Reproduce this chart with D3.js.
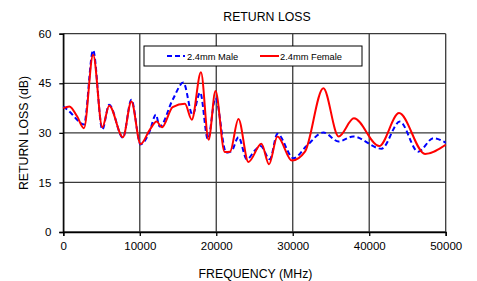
<!DOCTYPE html>
<html>
<head>
<meta charset="utf-8">
<script src="https://cdn.jsdelivr.net/npm/d3@7"></script>
<style>
  body { margin: 0; background: #fff; }
  text { font-family: Arial, "Liberation Sans", sans-serif; fill: #000; }
</style>
</head>
<body>
<svg></svg>
<script>
// 2.4mm Male (blue dashed)
var maleFreq = [0, 1000, 2000, 2700, 3900, 5100, 6000, 7800, 8900, 10100, 11300, 12100, 12600, 14300, 15700, 16900, 17900, 18900, 19900, 21300, 22000, 22900, 24000, 25100, 25800, 27000, 28000, 30100, 31800, 34000, 36000, 37900, 41600, 44000, 46400, 48400, 50000];
var maleDb = [38.0, 36.0, 33.5, 32.5, 55.0, 31.0, 38.5, 28.5, 40.0, 26.5, 30.5, 35.5, 31.9, 40.0, 45.2, 35.5, 42.2, 28.1, 40.5, 24.0, 24.5, 28.7, 22.0, 24.8, 26.0, 22.0, 29.7, 22.3, 26.0, 30.1, 27.4, 28.9, 25.2, 33.4, 24.3, 28.4, 27.0];

// 2.4mm Female (red solid)
var femaleFreq = [0, 800, 1800, 2700, 3900, 5100, 6000, 7800, 8900, 10100, 11300, 12200, 12900, 14300, 15900, 16800, 18000, 19000, 19900, 21100, 21800, 22900, 24200, 25900, 26900, 28000, 29900, 31600, 34000, 36000, 38000, 41300, 43900, 47300, 50000];
var femaleDb = [37.5, 38.0, 35.0, 31.4, 53.6, 31.7, 38.2, 28.7, 39.5, 26.6, 30.9, 33.4, 31.7, 37.8, 38.8, 34.0, 48.3, 27.9, 42.7, 24.2, 24.3, 34.2, 21.2, 26.7, 20.5, 28.9, 21.6, 24.3, 43.5, 28.9, 34.4, 26.0, 36.0, 23.6, 26.4];

var xTicks = [0, 10000, 20000, 30000, 40000, 50000];
var yTicks = [0, 15, 30, 45, 60];
var seriesNames = ["2.4mm Male", "2.4mm Female"];

var width = 477, height = 281;
var svg = d3.select("svg").attr("width", width).attr("height", height);

var plot = { left: 63.3, right: 445.7, top: 33.7, bottom: 232 };

var xScale = d3.scaleLinear().domain([0, 50000]).range([plot.left, plot.right]);
var yScale = d3.scaleLinear().domain([0, 60]).range([plot.bottom, plot.top]);

// grid
svg.append("g").selectAll("line.h")
  .data(yTicks).enter().append("line")
  .attr("x1", plot.left).attr("x2", plot.right)
  .attr("y1", function(d){ return yScale(d); })
  .attr("y2", function(d){ return yScale(d); })
  .attr("stroke", "#3a3a3a").attr("stroke-width", 1.3);

svg.append("g").selectAll("line.v")
  .data(xTicks).enter().append("line")
  .attr("y1", plot.top).attr("y2", plot.bottom)
  .attr("x1", function(d){ return xScale(d); })
  .attr("x2", function(d){ return xScale(d); })
  .attr("stroke", "#3a3a3a").attr("stroke-width", 1.3);

// axes
var xAxis = d3.axisBottom(xScale).tickValues(xTicks).tickFormat(d3.format("d"))
  .tickSizeOuter(0).tickSize(4).tickPadding(6);
var yAxis = d3.axisLeft(yScale).tickValues(yTicks).tickSizeOuter(0).tickSize(4).tickPadding(8);

var gx = svg.append("g")
  .attr("transform", "translate(0," + plot.bottom + ")")
  .call(xAxis);
var gy = svg.append("g")
  .attr("transform", "translate(" + plot.left + ",0)")
  .call(yAxis);

[gx, gy].forEach(function(g){
  g.select(".domain").attr("stroke", "#000").attr("stroke-width", 1.3);
  g.selectAll(".tick line").attr("stroke", "#000").attr("stroke-width", 1.3);
  g.selectAll("text").attr("font-size", "11.5px").attr("fill", "#000")
    .style("font-family", "Arial, 'Liberation Sans', sans-serif");
});

// lines
var line = d3.line()
  .x(function(d){ return xScale(d[0]); })
  .y(function(d){ return yScale(d[1]); })
  .curve(d3.curveMonotoneX);

var maleData = maleFreq.map(function(f, i){ return [f, maleDb[i]]; });
var femaleData = femaleFreq.map(function(f, i){ return [f, femaleDb[i]]; });

svg.append("path")
  .datum(maleData)
  .attr("d", line)
  .attr("fill", "none")
  .attr("stroke", "#0000ff")
  .attr("stroke-width", 2)
  .attr("stroke-dasharray", "5,3");

svg.append("path")
  .datum(femaleData)
  .attr("d", line)
  .attr("fill", "none")
  .attr("stroke", "#ff0000")
  .attr("stroke-width", 2);

// legend
var legend = svg.append("g");
legend.append("rect")
  .attr("x", 144).attr("y", 46).attr("width", 218).attr("height", 20)
  .attr("fill", "#fff").attr("stroke", "#000").attr("stroke-width", 1);

legend.append("line")
  .attr("x1", 167).attr("x2", 185).attr("y1", 56).attr("y2", 56)
  .attr("stroke", "#0000ff").attr("stroke-width", 2).attr("stroke-dasharray", "5,3");
legend.append("text")
  .attr("x", 187).attr("y", 59.5).attr("font-size", "9.3px")
  .text(seriesNames[0]);

legend.append("line")
  .attr("x1", 260).attr("x2", 279).attr("y1", 56).attr("y2", 56)
  .attr("stroke", "#ff0000").attr("stroke-width", 2);
legend.append("text")
  .attr("x", 280).attr("y", 59.5).attr("font-size", "9.3px")
  .text(seriesNames[1]);

// titles
svg.append("text")
  .attr("x", 267).attr("y", 20.5)
  .attr("text-anchor", "middle").attr("font-size", "12.3px")
  .text("RETURN LOSS");

svg.append("text")
  .attr("x", 255.5).attr("y", 278)
  .attr("text-anchor", "middle").attr("font-size", "12.3px")
  .text("FREQUENCY (MHz)");

svg.append("text")
  .attr("transform", "translate(27.5,133) rotate(-90)")
  .attr("text-anchor", "middle").attr("font-size", "12.3px")
  .text("RETURN LOSS (dB)");
</script>
</body>
</html>
